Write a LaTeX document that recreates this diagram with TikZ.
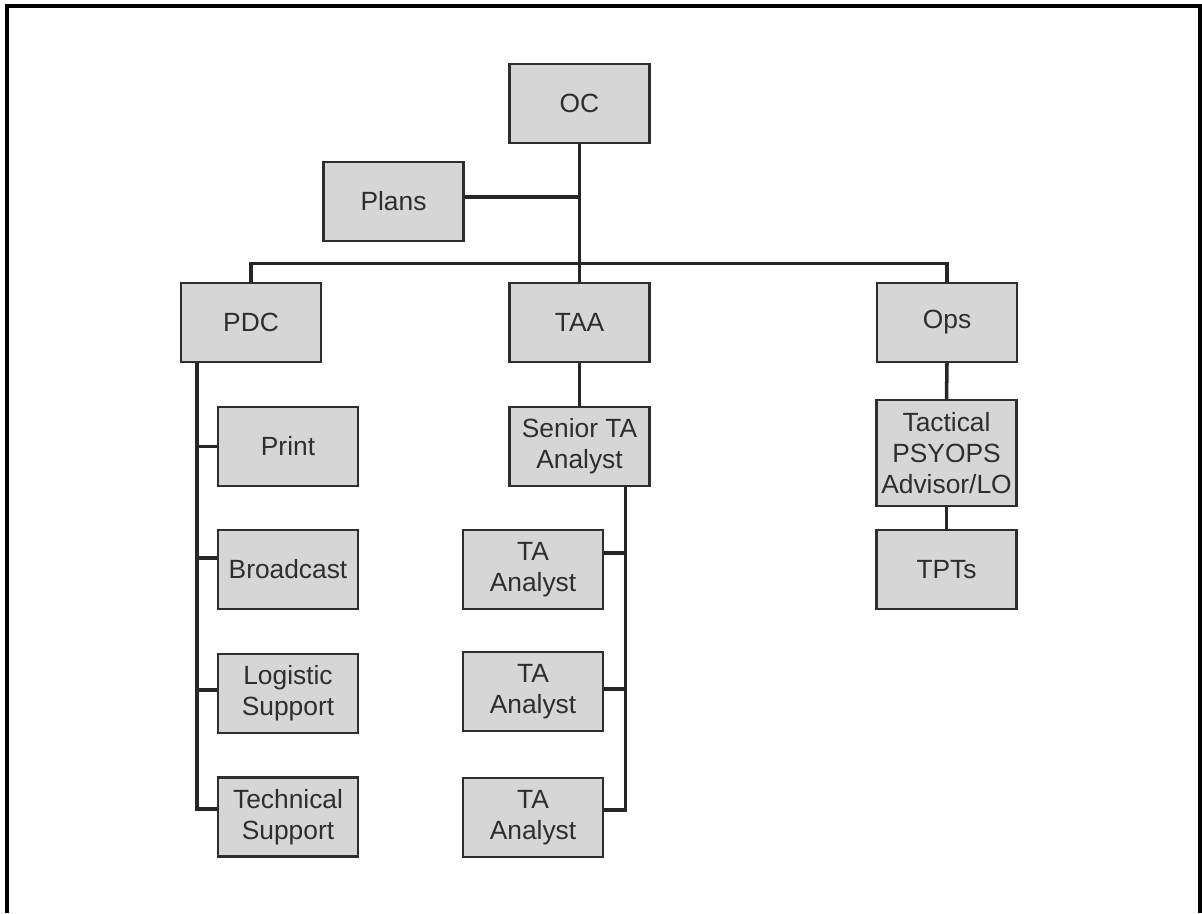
\documentclass[tikz,border=0pt]{standalone}
\usepackage{fontspec}
\setmainfont{Liberation Sans}
\definecolor{boxgray}{HTML}{D6D6D6}
\definecolor{edgegray}{HTML}{2E2E2E}
\tikzset{
  unit/.style={draw=edgegray, line width=1.4pt, fill=boxgray, text=edgegray,
    minimum width=2.8cm, minimum height=1.58cm, align=center, inner sep=0pt,
    font=\fontsize{15}{17.8}\selectfont},
  link/.style={line width=2pt, draw=black!85}
}
\begin{document}
\begin{tikzpicture}[x=0.02cm,y=-0.02cm]
    \useasboundingbox (0,0) rectangle (1202,913);
    \draw[line width=2.2pt] (7,913) -- (7,6) -- (1200,6) -- (1200,913);
    % top
    \node[unit] (oc) at (579.5,103.5) {OC};
    \node[unit] (plans) at (393.5,201.5) {Plans};
    % second row
    \node[unit] (pdc) at (251,322.5) {PDC};
    \node[unit] (taa) at (579.5,322.5) {TAA};
    \node[unit] (ops) at (947,322.5) {Ops};
    % PDC column
    \node[unit] (print) at (288,446.5) {Print};
    \node[unit] (broad) at (288,569.5) {Broadcast};
    \node[unit] (logi) at (288,693.5) {Logistic\\Support};
    \node[unit] (tech) at (288,817) {Technical\\Support};
    % TAA column
    \node[unit] (senior) at (579.5,446.5) {Senior TA\\Analyst};
    \node[unit] (ta1) at (533,569.5) {TA\\Analyst};
    \node[unit] (ta2) at (533,691.5) {TA\\Analyst};
    \node[unit] (ta3) at (533,817.5) {TA\\Analyst};
    % Ops column
    \node[unit, minimum height=2.12cm] (tactical) at (946.5,453) {Tactical\\PSYOPS\\Advisor/LO};
    \node[unit] (tpts) at (946.5,569.5) {TPTs};

    \coordinate (bus) at (579.5,263.5);
    \draw[link] (oc.south) -- (taa.north);
    \coordinate (plansend) at ([yshift=0.09cm]plans.east);
    \draw[link] (plansend) -- (plansend -| oc.south);
    \draw[link] (pdc.north) |- (bus) -| (ops.north);

    \coordinate (pdcbar) at ([xshift=-1.08cm]pdc.south);
    \draw[link] (pdcbar) |- ([yshift=0.16cm]tech.west);
    \foreach \n/\dy in {print/0,broad/0.23,logi/0.07}{
        \coordinate (tip) at ([yshift=\dy cm]\n.west);
        \draw[link] (pdcbar |- tip) -- (tip);
    }

    \draw[link] (taa.south) -- (senior.north);
    \coordinate (senbar) at ([xshift=0.92cm]senior.south);
    \draw[link] (senbar) |- ([yshift=0.15cm]ta3.east);
    \foreach \n/\dy in {ta1/0.33,ta2/0.05}{
        \coordinate (tip) at ([yshift=\dy cm]\n.east);
        \draw[link] (senbar |- tip) -- (tip);
    }

    \draw[link] (ops.south) -- (tactical.north);
    \draw[link] (tactical.south) -- (tpts.north);
\end{tikzpicture}
\end{document}
